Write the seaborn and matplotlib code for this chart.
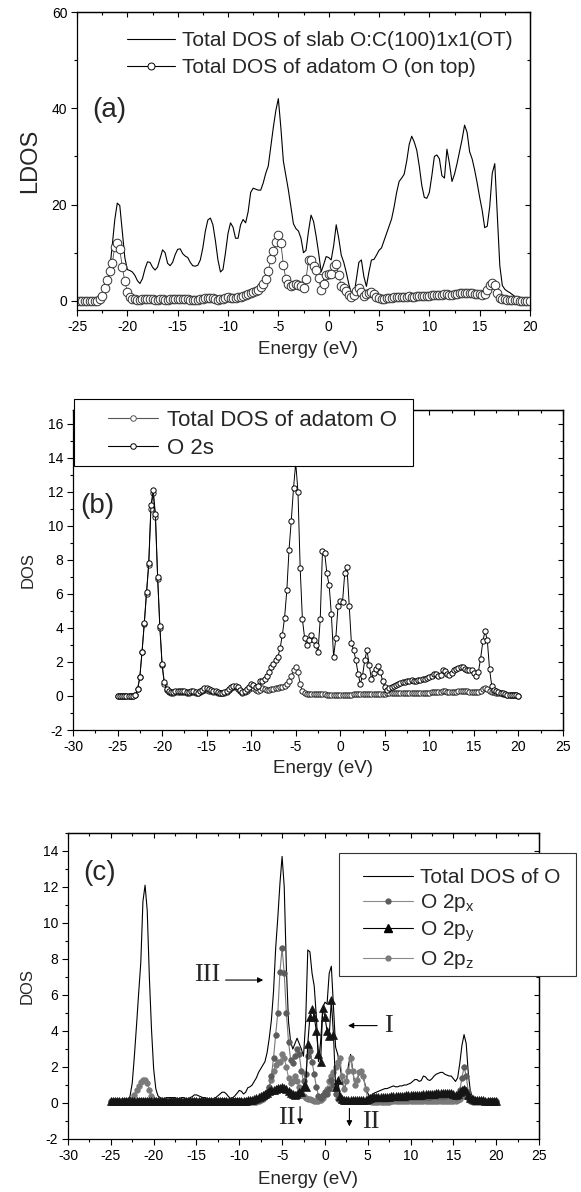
import numpy as np
import matplotlib
matplotlib.use("Agg")
import matplotlib.pyplot as plt
import seaborn as sns
from matplotlib.lines import Line2D
from matplotlib.patches import Rectangle
from matplotlib.ticker import MultipleLocator, NullFormatter

sns.set_theme(style="ticks")
plt.rcParams["font.family"] = ["Liberation Sans", "DejaVu Sans"]
plt.rcParams["mathtext.fontset"] = "custom"
plt.rcParams["mathtext.rm"] = "Liberation Sans"
plt.rcParams["mathtext.it"] = "Liberation Sans:italic"
plt.rcParams["axes.unicode_minus"] = False

# ---------------- data (energy mesh: -25 ... 20 eV, 0.25 eV step) ----------------
energy = np.round(np.arange(-25.0, 20.0 + 0.125, 0.25), 2)

slab_total = [
    0.0, 0.0, 0.0, 0.0,      # -25
    0.0, 0.0, 0.0, 0.05,     # -24
    0.1, 0.4, 1.2, 2.0,      # -23
    3.2, 6.5, 11.5, 16.8,    # -22
    20.3, 19.8, 14.5, 9.0,   # -21
    6.5, 6.3, 6.0, 5.3,      # -20
    4.2, 3.6, 4.6, 6.6,      # -19
    8.1, 8.0, 7.0, 6.4,      # -18
    7.0, 8.8, 10.6, 10.0,    # -17
    7.8, 7.3, 8.0, 9.6,      # -16
    10.7, 10.8, 9.8, 9.3,    # -15
    9.0, 8.0, 7.3, 7.2,      # -14
    7.4, 8.5, 11.0, 14.5,    # -13
    16.8, 17.2, 15.8, 12.5,  # -12
    8.5, 6.0, 6.5, 10.0,     # -11
    14.0, 16.2, 15.3, 13.0,  # -10
    13.0, 15.8, 16.9, 16.2,  # -9
    18.5, 22.5, 23.4, 23.2,  # -8
    23.0, 23.0, 24.5, 26.5,  # -7
    28.0, 32.0, 36.0, 39.5,  # -6
    42.0, 36.0, 29.0, 26.0,  # -5
    23.0, 19.5, 16.0, 15.0,  # -4
    14.5, 13.0, 10.0, 10.5,  # -3
    14.5, 17.8, 16.5, 13.5,  # -2
    10.0, 6.0, 7.5, 9.2,     # -1
    9.0, 8.5, 11.5, 15.8,    # 0
    13.0, 9.5, 8.0, 5.9,     # 1
    3.5, 1.5, 1.0, 4.5,      # 2
    8.0, 8.5, 5.0, 3.0,      # 3
    6.0, 8.5, 8.6, 9.5,      # 4
    10.5, 11.0, 12.5, 14.0,  # 5
    15.5, 17.0, 19.5, 22.5,  # 6
    24.8, 25.5, 26.3, 29.0,  # 7
    32.5, 34.2, 33.0, 31.3,  # 8
    28.0, 24.0, 21.5, 21.3,  # 9
    22.5, 26.0, 30.0, 30.3,  # 10
    29.5, 26.0, 25.5, 31.5,  # 11
    28.5, 24.8, 26.3, 28.5,  # 12
    31.0, 33.5, 36.5, 35.0,  # 13
    31.0, 29.5, 27.2, 24.5,  # 14
    21.5, 18.8, 15.2, 15.5,  # 15
    19.6, 26.5, 28.5, 18.0,  # 16
    7.3, 3.2, 2.4, 2.0,      # 17
    1.7, 1.3, 0.9, 0.7,      # 18
    0.4, 0.3, 0.2, 0.1,      # 19
    0.1,                     # 20
]

o_total = [
    0.02, 0.02, 0.02, 0.02,  # -25
    0.02, 0.02, 0.02, 0.02,  # -24
    0.05, 0.4, 1.1, 2.6,     # -23
    4.3, 6.1, 7.8, 11.2,     # -22
    12.1, 10.7, 7.0, 4.1,    # -21
    1.9, 0.8, 0.4, 0.3,      # -20
    0.25, 0.25, 0.3, 0.3,    # -19
    0.3, 0.3, 0.3, 0.25,     # -18
    0.25, 0.3, 0.3, 0.25,    # -17
    0.2, 0.3, 0.35, 0.45,    # -16
    0.45, 0.4, 0.35, 0.3,    # -15
    0.3, 0.25, 0.2, 0.2,     # -14
    0.25, 0.3, 0.4, 0.5,     # -13
    0.6, 0.6, 0.5, 0.35,     # -12
    0.25, 0.3, 0.4, 0.55,    # -11
    0.7, 0.65, 0.5, 0.6,     # -10
    0.85, 0.9, 1.0, 1.2,     # -9
    1.4, 1.7, 1.9, 2.1,      # -8
    2.3, 2.8, 3.6, 4.6,      # -7
    6.2, 8.6, 10.3, 12.2,    # -6
    13.7, 12.0, 7.5, 4.5,    # -5
    3.4, 3.0, 3.3, 3.6,      # -4
    3.3, 3.0, 2.6, 4.5,      # -3
    8.5, 8.4, 7.2, 6.5,      # -2
    4.8, 2.3, 3.4, 5.3,      # -1
    5.6, 5.5, 7.2, 7.6,      # 0
    5.3, 3.1, 2.7, 2.1,      # 1
    1.3, 0.7, 1.2, 2.1,      # 2
    2.7, 1.8, 1.0, 1.35,     # 3
    1.6, 1.75, 1.4, 0.9,     # 4
    0.55, 0.35, 0.45, 0.55,  # 5
    0.6, 0.65, 0.7, 0.75,    # 6
    0.8, 0.8, 0.85, 0.9,     # 7
    0.95, 0.9, 0.9, 0.95,    # 8
    0.95, 1.0, 1.0, 1.05,    # 9
    1.1, 1.2, 1.3, 1.3,      # 10
    1.2, 1.25, 1.5, 1.45,    # 11
    1.3, 1.25, 1.35, 1.5,    # 12
    1.6, 1.65, 1.7, 1.7,     # 13
    1.6, 1.55, 1.5, 1.5,     # 14
    1.35, 1.2, 1.4, 2.2,     # 15
    3.2, 3.8, 3.3, 1.6,      # 16
    0.6, 0.35, 0.3, 0.25,    # 17
    0.2, 0.15, 0.1, 0.08,    # 18
    0.06, 0.05, 0.04, 0.03,  # 19
    0.02,                    # 20
]

o_2s = [
    0.02, 0.02, 0.02, 0.02,  # -25
    0.02, 0.02, 0.02, 0.02,  # -24
    0.05, 0.4, 1.1, 2.6,     # -23
    4.2, 6.0, 7.7, 11.0,     # -22
    11.9, 10.5, 6.9, 4.0,    # -21
    1.8, 0.7, 0.35, 0.25,    # -20
    0.2, 0.2, 0.25, 0.25,    # -19
    0.25, 0.25, 0.25, 0.2,   # -18
    0.2, 0.25, 0.25, 0.2,    # -17
    0.2, 0.25, 0.3, 0.35,    # -16
    0.35, 0.3, 0.3, 0.25,    # -15
    0.25, 0.2, 0.15, 0.15,   # -14
    0.2, 0.25, 0.35, 0.45,   # -13
    0.5, 0.5, 0.4, 0.3,      # -12
    0.2, 0.25, 0.3, 0.4,     # -11
    0.5, 0.45, 0.35, 0.3,    # -10
    0.35, 0.45, 0.4, 0.35,   # -9
    0.35, 0.4, 0.4, 0.45,    # -8
    0.45, 0.5, 0.55, 0.6,    # -7
    0.7, 0.9, 1.2, 1.5,      # -6
    1.7, 1.4, 0.7, 0.3,      # -5
    0.15, 0.1, 0.1, 0.1,     # -4
    0.1, 0.1, 0.09, 0.09,    # -3
    0.09, 0.09, 0.08, 0.08,  # -2
    0.08, 0.08, 0.08, 0.08,  # -1
    0.08, 0.08, 0.08, 0.08,  # 0
    0.08, 0.08, 0.09, 0.09,  # 1
    0.09, 0.09, 0.1, 0.1,    # 2
    0.1, 0.1, 0.1, 0.1,      # 3
    0.1, 0.1, 0.1, 0.1,      # 4
    0.12, 0.15, 0.15, 0.15,  # 5
    0.15, 0.15, 0.15, 0.15,  # 6
    0.15, 0.15, 0.18, 0.18,  # 7
    0.18, 0.18, 0.2, 0.2,    # 8
    0.2, 0.2, 0.2, 0.2,      # 9
    0.2, 0.22, 0.22, 0.25,   # 10
    0.22, 0.22, 0.28, 0.3,   # 11
    0.25, 0.22, 0.22, 0.25,  # 12
    0.25, 0.28, 0.3, 0.3,    # 13
    0.28, 0.27, 0.25, 0.25,  # 14
    0.25, 0.22, 0.25, 0.3,   # 15
    0.38, 0.45, 0.4, 0.3,    # 16
    0.25, 0.22, 0.2, 0.18,   # 17
    0.15, 0.12, 0.1, 0.08,   # 18
    0.06, 0.05, 0.04, 0.03,  # 19
    0.02,                    # 20
]

o_2px = [
    0.10, 0.10, 0.10, 0.10,  # -25
    0.10, 0.10, 0.10, 0.10,  # -24
    0.10, 0.10, 0.10, 0.10,  # -23
    0.10, 0.10, 0.10, 0.10,  # -22
    0.10, 0.10, 0.10, 0.10,  # -21
    0.10, 0.10, 0.10, 0.10,  # -20
    0.10, 0.10, 0.10, 0.10,  # -19
    0.10, 0.10, 0.10, 0.10,  # -18
    0.10, 0.10, 0.10, 0.10,  # -17
    0.10, 0.10, 0.10, 0.10,  # -16
    0.10, 0.10, 0.10, 0.10,  # -15
    0.10, 0.10, 0.10, 0.10,  # -14
    0.10, 0.10, 0.10, 0.10,  # -13
    0.10, 0.10, 0.10, 0.10,  # -12
    0.10, 0.10, 0.10, 0.10,  # -11
    0.10, 0.10, 0.10, 0.10,  # -10
    0.10, 0.10, 0.12, 0.12,  # -9
    0.14, 0.16, 0.20, 0.28,  # -8
    0.40, 0.60, 0.90, 1.50,  # -7
    2.50, 3.80, 5.00, 7.30,  # -6
    8.60, 7.20, 5.00, 3.40,  # -5
    2.40, 2.20, 2.60, 3.00,  # -4
    2.70, 1.80, 1.20, 1.60,  # -3
    2.60, 2.90, 2.30, 1.60,  # -2
    0.90, 0.40, 0.30, 0.45,  # -1
    0.60, 0.50, 0.80, 1.30,  # 0
    1.00, 0.50, 0.25, 0.15,  # 1
    0.12, 0.10, 0.10, 0.10,  # 2
    0.10, 0.10, 0.10, 0.10,  # 3
    0.10, 0.10, 0.10, 0.12,  # 4
    0.15, 0.18, 0.20, 0.20,  # 5
    0.22, 0.22, 0.24, 0.24,  # 6
    0.25, 0.25, 0.26, 0.26,  # 7
    0.27, 0.27, 0.28, 0.28,  # 8
    0.28, 0.29, 0.30, 0.30,  # 9
    0.31, 0.32, 0.32, 0.33,  # 10
    0.33, 0.34, 0.35, 0.35,  # 11
    0.35, 0.36, 0.37, 0.38,  # 12
    0.38, 0.39, 0.40, 0.40,  # 13
    0.41, 0.42, 0.42, 0.40,  # 14
    0.38, 0.35, 0.40, 0.70,  # 15
    1.40, 2.00, 1.50, 0.60,  # 16
    0.25, 0.15, 0.12, 0.10,  # 17
    0.10, 0.10, 0.10, 0.10,  # 18
    0.10, 0.10, 0.10, 0.10,  # 19
    0.10,                    # 20
]

o_2py = [
    0.12, 0.12, 0.12, 0.12,  # -25
    0.12, 0.12, 0.12, 0.12,  # -24
    0.12, 0.12, 0.12, 0.12,  # -23
    0.12, 0.12, 0.12, 0.12,  # -22
    0.12, 0.12, 0.12, 0.12,  # -21
    0.12, 0.12, 0.12, 0.12,  # -20
    0.12, 0.12, 0.12, 0.12,  # -19
    0.12, 0.12, 0.12, 0.12,  # -18
    0.12, 0.12, 0.12, 0.12,  # -17
    0.12, 0.12, 0.12, 0.12,  # -16
    0.12, 0.12, 0.12, 0.12,  # -15
    0.12, 0.12, 0.12, 0.12,  # -14
    0.12, 0.12, 0.12, 0.12,  # -13
    0.12, 0.12, 0.12, 0.12,  # -12
    0.12, 0.12, 0.12, 0.12,  # -11
    0.12, 0.12, 0.12, 0.12,  # -10
    0.14, 0.16, 0.18, 0.22,  # -9
    0.28, 0.34, 0.40, 0.46,  # -8
    0.52, 0.58, 0.64, 0.70,  # -7
    0.74, 0.78, 0.82, 0.86,  # -6
    0.90, 0.86, 0.78, 0.68,  # -5
    0.58, 0.50, 0.45, 0.50,  # -4
    0.60, 0.62, 0.95, 0.90,  # -3
    3.30, 4.80, 5.20, 4.80,  # -2
    4.00, 2.70, 2.30, 5.30,  # -1
    4.80, 4.00, 3.70, 5.70,  # 0
    3.80, 0.90, 1.30, 0.40,  # 1
    0.25, 0.18, 0.15, 0.15,  # 2
    0.15, 0.15, 0.15, 0.15,  # 3
    0.15, 0.15, 0.15, 0.18,  # 4
    0.25, 0.30, 0.32, 0.33,  # 5
    0.34, 0.34, 0.35, 0.35,  # 6
    0.35, 0.36, 0.36, 0.37,  # 7
    0.37, 0.38, 0.38, 0.40,  # 8
    0.40, 0.40, 0.42, 0.42,  # 9
    0.44, 0.45, 0.46, 0.46,  # 10
    0.46, 0.47, 0.50, 0.48,  # 11
    0.48, 0.48, 0.50, 0.52,  # 12
    0.54, 0.55, 0.56, 0.57,  # 13
    0.57, 0.58, 0.58, 0.55,  # 14
    0.50, 0.45, 0.50, 0.60,  # 15
    0.70, 0.80, 0.65, 0.45,  # 16
    0.30, 0.22, 0.18, 0.16,  # 17
    0.15, 0.14, 0.14, 0.13,  # 18
    0.13, 0.12, 0.12, 0.12,  # 19
    0.12,                    # 20
]

o_2pz = [
    0.05, 0.05, 0.05, 0.05,  # -25
    0.05, 0.05, 0.05, 0.05,  # -24
    0.05, 0.10, 0.20, 0.45,  # -23
    0.70, 0.95, 1.15, 1.30,  # -22
    1.30, 1.10, 0.75, 0.40,  # -21
    0.15, 0.08, 0.05, 0.05,  # -20
    0.05, 0.05, 0.05, 0.05,  # -19
    0.05, 0.05, 0.05, 0.05,  # -18
    0.05, 0.05, 0.05, 0.05,  # -17
    0.05, 0.05, 0.05, 0.05,  # -16
    0.05, 0.05, 0.05, 0.05,  # -15
    0.05, 0.05, 0.05, 0.05,  # -14
    0.05, 0.05, 0.05, 0.05,  # -13
    0.05, 0.05, 0.05, 0.05,  # -12
    0.05, 0.05, 0.05, 0.05,  # -11
    0.05, 0.05, 0.05, 0.05,  # -10
    0.05, 0.05, 0.06, 0.07,  # -9
    0.08, 0.12, 0.18, 0.25,  # -8
    0.35, 0.55, 0.85, 1.30,  # -7
    1.80, 2.10, 2.30, 2.30,  # -6
    2.70, 2.50, 2.00, 1.40,  # -5
    1.10, 1.20, 1.50, 1.20,  # -4
    0.90, 0.60, 0.40, 0.30,  # -3
    0.25, 0.20, 0.15, 0.12,  # -2
    0.10, 0.10, 0.15, 0.30,  # -1
    0.50, 0.80, 1.20, 1.50,  # 0
    1.70, 2.00, 2.30, 2.50,  # 1
    1.50, 0.80, 1.20, 1.80,  # 2
    2.50, 1.80, 1.00, 1.30,  # 3
    1.70, 1.80, 1.50, 0.80,  # 4
    0.25, 0.12, 0.08, 0.08,  # 5
    0.08, 0.08, 0.08, 0.08,  # 6
    0.08, 0.08, 0.08, 0.09,  # 7
    0.09, 0.09, 0.09, 0.09,  # 8
    0.09, 0.09, 0.10, 0.10,  # 9
    0.10, 0.10, 0.10, 0.10,  # 10
    0.10, 0.10, 0.11, 0.11,  # 11
    0.11, 0.11, 0.11, 0.12,  # 12
    0.12, 0.12, 0.12, 0.12,  # 13
    0.12, 0.12, 0.12, 0.12,  # 14
    0.12, 0.12, 0.15, 0.25,  # 15
    0.40, 0.80, 0.60, 0.30,  # 16
    0.12, 0.08, 0.06, 0.05,  # 17
    0.05, 0.05, 0.05, 0.05,  # 18
    0.05, 0.05, 0.05, 0.05,  # 19
    0.05,                    # 20
]

labels_a = ["Total DOS of slab O:C(100)1x1(OT)", "Total DOS of adatom O (on top)"]
labels_b = ["Total DOS of adatom O", "O 2s"]
labels_c = ["Total DOS of O", "O 2p$_{\\mathrm{x}}$", "O 2p$_{\\mathrm{y}}$", "O 2p$_{\\mathrm{z}}$"]

# ---------------- figure ----------------
W, H = 581, 1192
fig = plt.figure(figsize=(W / 100, H / 100), dpi=100)
fig.patch.set_facecolor("white")


def ax_px(x0, y0, x1, y1):
    return fig.add_axes([x0 / W, 1 - y1 / H, (x1 - x0) / W, (y1 - y0) / H])


def fpx(x, y):
    return (x / W, 1 - y / H)


axa = ax_px(77, 12, 530, 310)
axb = ax_px(73, 410, 563, 730)
axc = ax_px(68, 833, 539, 1139)


def frame(ax, xlim, ylim, xmaj, xmin, ymaj, ymin):
    ax.set_xlim(*xlim)
    ax.set_ylim(*ylim)
    ax.set_facecolor("white")
    ax.grid(False)
    ax.xaxis.set_major_locator(MultipleLocator(xmaj))
    ax.xaxis.set_minor_locator(MultipleLocator(xmin))
    ax.yaxis.set_major_locator(MultipleLocator(ymaj))
    ax.yaxis.set_minor_locator(MultipleLocator(ymin))
    ax.tick_params(which="both", direction="out", width=0.8, colors="black",
                   labelsize=10, top=False, right=False)
    ax.tick_params(which="major", length=4.5, pad=2.5)
    ax.tick_params(which="minor", length=2.5)
    for s in ax.spines.values():
        s.set_visible(True)
        s.set_linewidth(0.9)
        s.set_color("black")
    top = ax.secondary_xaxis("top")
    top.xaxis.set_major_locator(MultipleLocator(xmaj))
    top.xaxis.set_minor_locator(MultipleLocator(xmin))
    top.xaxis.set_major_formatter(NullFormatter())
    top.tick_params(which="both", direction="in", width=0.8, colors="black")
    top.tick_params(which="major", length=3.5)
    top.tick_params(which="minor", length=2)
    right = ax.secondary_yaxis("right")
    right.yaxis.set_major_locator(MultipleLocator(ymaj))
    right.yaxis.set_minor_locator(MultipleLocator(ymin))
    right.yaxis.set_major_formatter(NullFormatter())
    right.tick_params(which="both", direction="in", width=0.8, colors="black")
    right.tick_params(which="major", length=3.5)
    right.tick_params(which="minor", length=2)
    for sec in (top, right):
        for s in sec.spines.values():
            s.set_linewidth(0.9)
            s.set_color("black")


# ---------------- panel (a) ----------------
sns.lineplot(x=energy, y=slab_total, ax=axa, color="black", linewidth=0.8,
             estimator=None, sort=False, legend=False)
sns.lineplot(x=energy, y=o_total, ax=axa, color="#444444", linewidth=0.6,
             marker="o", markersize=6.2, markerfacecolor="white",
             markeredgecolor="#333333", markeredgewidth=0.7,
             estimator=None, sort=False, legend=False)
frame(axa, (-25, 20), (-1.9, 60), 5, 2.5, 20, 10)
axa.set_ylabel("LDOS", fontsize=17)
axa.yaxis.set_label_coords(-0.079, 0.5)
axa.set_xlabel("Energy (eV)", fontsize=13.5)
axa.xaxis.set_label_coords(0.51, -0.105)
axa.text(0.033, 0.67, "(a)", transform=axa.transAxes, fontsize=20,
         ha="left", va="center")
ha = [Line2D([], [], color="black", lw=0.8),
      Line2D([], [], color="black", lw=0.8, marker="o", markersize=5,
             markerfacecolor="white", markeredgecolor="black", markeredgewidth=0.7)]
axa.legend(ha, labels_a, loc="upper left", bbox_to_anchor=fpx(127, 31),
           bbox_transform=fig.transFigure, frameon=False, fontsize=15,
           handlelength=2.3, handletextpad=0.35, labelspacing=0.38,
           borderpad=0, borderaxespad=0)

# ---------------- panel (b) ----------------
sns.lineplot(x=energy, y=o_2s, ax=axb, color="#222222", linewidth=0.7,
             marker="o", markersize=3.8, markerfacecolor="white",
             markeredgecolor="#222222", markeredgewidth=0.7,
             estimator=None, sort=False, legend=False)
sns.lineplot(x=energy, y=o_total, ax=axb, color="black", linewidth=0.7,
             marker="o", markersize=3.8, markerfacecolor="white",
             markeredgecolor="black", markeredgewidth=0.7,
             estimator=None, sort=False, legend=False)
frame(axb, (-30, 25), (-2, 16.8), 5, 2.5, 2, 1)
axb.set_ylabel("DOS", fontsize=12)
axb.yaxis.set_label_coords(-0.0755, 0.5)
axb.set_xlabel("Energy (eV)", fontsize=13.5)
axb.xaxis.set_label_coords(0.51, -0.094)
axb.text(0.014, 0.70, "(b)", transform=axb.transAxes, fontsize=20,
         ha="left", va="center")
axb.add_patch(Rectangle(fpx(74, 466), (413 - 74) / W, (466 - 399) / H,
                        transform=fig.transFigure, clip_on=False, zorder=4,
                        facecolor="white", edgecolor="black", linewidth=0.8))
hb = [Line2D([], [], color="#555555", lw=0.8, marker="o", markersize=4,
             markerfacecolor="white", markeredgecolor="#555555", markeredgewidth=0.7),
      Line2D([], [], color="black", lw=0.8, marker="o", markersize=4,
             markerfacecolor="white", markeredgecolor="black", markeredgewidth=0.7)]
lb = axb.legend(hb, labels_b, loc="upper left", bbox_to_anchor=fpx(108, 410),
                bbox_transform=fig.transFigure, frameon=False, fontsize=16,
                handlelength=2.25, handletextpad=0.4, labelspacing=0.3,
                borderpad=0, borderaxespad=0)
lb.set_zorder(6)

# ---------------- panel (c) ----------------
sns.lineplot(x=energy, y=o_total, ax=axc, color="black", linewidth=0.8,
             estimator=None, sort=False, legend=False)
sns.lineplot(x=energy, y=o_2pz, ax=axc, color="#8a8a8a", linewidth=0.8,
             marker="o", markersize=4, markerfacecolor="#7a7a7a",
             markeredgecolor="#7a7a7a", markeredgewidth=0.5,
             estimator=None, sort=False, legend=False)
sns.lineplot(x=energy, y=o_2px, ax=axc, color="#777777", linewidth=0.8,
             marker="o", markersize=4, markerfacecolor="#5c5c5c",
             markeredgecolor="#5c5c5c", markeredgewidth=0.5,
             estimator=None, sort=False, legend=False)
sns.lineplot(x=energy, y=o_2py, ax=axc, color="black", linewidth=0.8,
             marker="^", markersize=6, markerfacecolor="#151515",
             markeredgecolor="#151515", markeredgewidth=0.5,
             estimator=None, sort=False, legend=False)
frame(axc, (-30, 25), (-2, 15), 5, 2.5, 2, 1)
axc.set_ylabel("DOS", fontsize=12)
axc.yaxis.set_label_coords(-0.070, 0.5)
axc.set_xlabel("Energy (eV)", fontsize=13.5)
axc.xaxis.set_label_coords(0.51, -0.105)
axc.text(0.032, 0.87, "(c)", transform=axc.transAxes, fontsize=20,
         ha="left", va="center")

serif = ["Liberation Serif", "DejaVu Serif"]
arrow = dict(arrowstyle="-|>", color="black", lw=0.8, mutation_scale=8,
             shrinkA=0, shrinkB=0)
axc.text(-13.8, 7.1, "III", family=serif, fontsize=19, ha="center", va="center")
axc.annotate("", xy=(-7.2, 6.83), xytext=(-11.6, 6.83), arrowprops=arrow)
axc.text(7.4, 4.3, "I", family=serif, fontsize=19, ha="center", va="center")
axc.annotate("", xy=(2.7, 4.3), xytext=(6.1, 4.3), arrowprops=arrow)
axc.text(-4.5, -0.85, "II", family=serif, fontsize=19, ha="center", va="center")
axc.annotate("", xy=(-2.9, -1.2), xytext=(-2.9, -0.2), arrowprops=arrow)
axc.text(5.4, -1.05, "II", family=serif, fontsize=19, ha="center", va="center")
axc.annotate("", xy=(2.86, -1.3), xytext=(2.86, -0.3), arrowprops=arrow)

axc.add_patch(Rectangle(fpx(339, 976), (576 - 339) / W, (976 - 853) / H,
                        transform=fig.transFigure, clip_on=False, zorder=4,
                        facecolor="white", edgecolor="#333333", linewidth=0.8))
hc = [Line2D([], [], color="black", lw=0.8),
      Line2D([], [], color="#8a8a8a", lw=0.8, marker="o", markersize=3.5,
             markerfacecolor="#5c5c5c", markeredgecolor="#5c5c5c"),
      Line2D([], [], color="black", lw=0.8, marker="^", markersize=6,
             markerfacecolor="black", markeredgecolor="black"),
      Line2D([], [], color="#8a8a8a", lw=0.8, marker="o", markersize=3.5,
             markerfacecolor="#7a7a7a", markeredgecolor="#7a7a7a")]
lc = axc.legend(hc, labels_c, loc="upper left", bbox_to_anchor=fpx(363, 868),
                bbox_transform=fig.transFigure, frameon=False, fontsize=15,
                handlelength=2.4, handletextpad=0.33, labelspacing=0.25,
                borderpad=0, borderaxespad=0)
lc.set_zorder(6)

fig.savefig("out.png", dpi=100, facecolor="white")
